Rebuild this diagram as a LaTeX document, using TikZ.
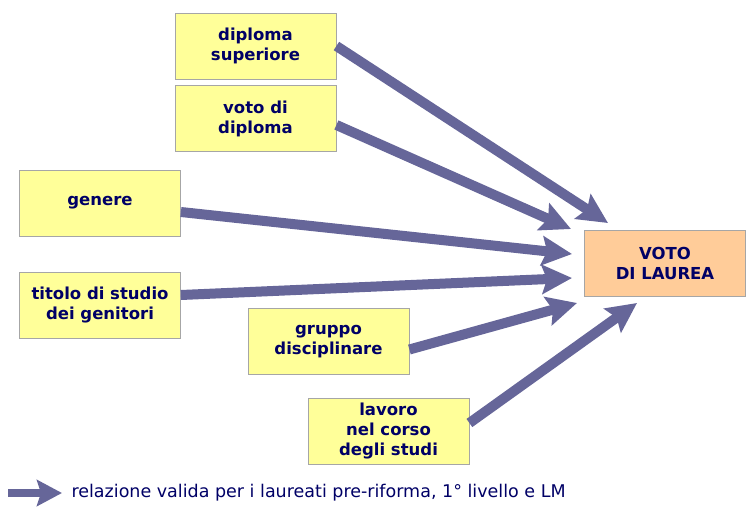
\documentclass[tikz,border=0pt]{standalone}
\usepackage{fontspec}
\setmainfont{DejaVu Sans}
\usetikzlibrary{arrows.meta}
\definecolor{boxyellow}{HTML}{FFFF99}
\definecolor{boxorange}{HTML}{FFCC99}
\definecolor{navytext}{HTML}{000066}
\definecolor{arrowblue}{HTML}{666699}

\begin{document}
\begin{tikzpicture}[x=1pt, y=-1pt,
	fattore/.style={draw=gray!70, line width=0.8pt, fill=boxyellow, minimum width=161pt, minimum height=66pt, inner sep=0pt, align=center, text=navytext, font=\fontsize{16.5}{20}\selectfont\bfseries},
	esito/.style={fattore, fill=boxorange},
	freccia/.style={-{Stealth[length=30pt, width=29pt, inset=5pt]}, color=arrowblue, line width=10pt}]
	\useasboundingbox (0,0) rectangle (749,506);
	%\draw[step=50pt, line width=0.2pt, black!20!white] (0,0) grid (749,506);
	\node[fattore] (dipsup) at (255.5,46) {diploma\\superiore};
	\node[fattore] (votodip) at (255.5,118.5) {voto di\\diploma};
	\node[fattore] (genere) at (100,203) {genere};
	\node[fattore] (titolo) at (100,305) {titolo di studio\\dei genitori};
	\node[fattore] (gruppo) at (328.5,341.5) {gruppo\\disciplinare};
	\node[fattore] (lavoro) at (388.5,431) {lavoro\\nel corso\\degli studi};
	\node[esito] (voto) at (665,263) {VOTO\\DI LAUREA};
	\coordinate (p1) at (608,223);
	\coordinate (p2) at (571,229);
	\coordinate (p3) at (572,254);
	\coordinate (p4) at (572,278);
	\coordinate (p5) at (577,303);
	\coordinate (p6) at (637,303);
	\draw[freccia] (dipsup.east) -- (p1);
	\draw[freccia] ([yshift=-6.5pt]votodip.east) -- (p2);
	\draw[freccia] ([yshift=-9pt]genere.east) -- (p3);
	\draw[freccia] ([yshift=10pt]titolo.east) -- (p4);
	\draw[freccia] ([yshift=-8pt]gruppo.east) -- (p5);
	\draw[freccia] ([yshift=8pt]lavoro.east) -- (p6);
	% legenda
	\coordinate (l0) at (8,493);
	\coordinate (l1) at (62,493);
	\draw[freccia, line width=8pt, -{Stealth[length=25pt, width=26pt, inset=4pt]}] (l0) -- (l1);
	\node[anchor=west, text=navytext, font=\fontsize{17.5}{20}\selectfont] (legenda) at (68,493) {relazione valida per i laureati pre-riforma, 1° livello e LM};
\end{tikzpicture}
\end{document}
